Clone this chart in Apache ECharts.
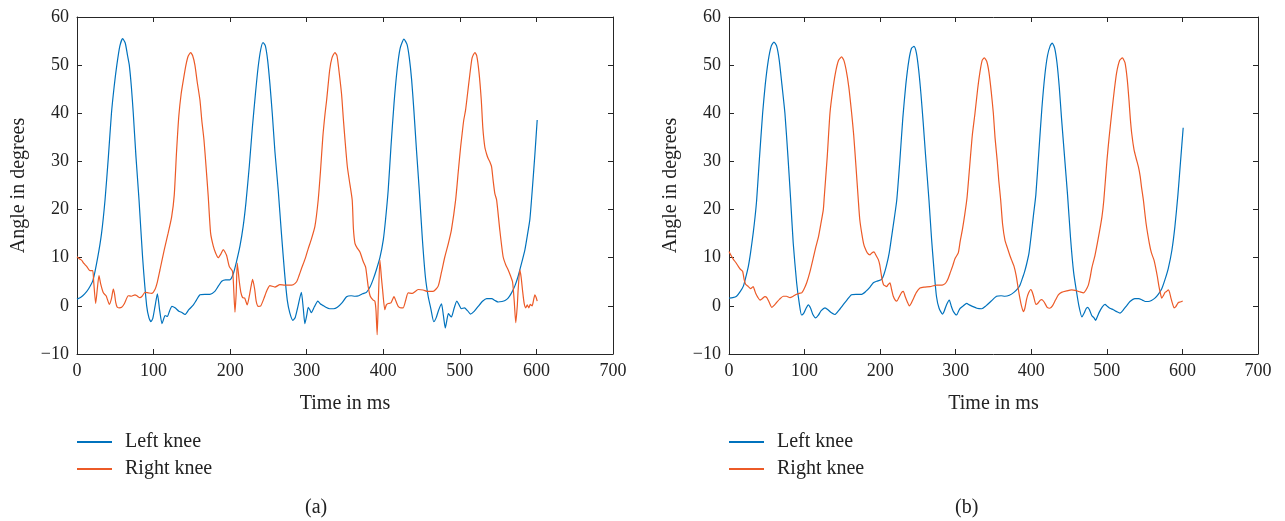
<!DOCTYPE html>
<html>
<head>
<meta charset="utf-8">
<script src="https://cdn.jsdelivr.net/npm/echarts@6/dist/echarts.min.js"></script>
<style>html,body{margin:0;padding:0;background:#fff}#c{width:1285px;height:521px}</style>
</head>
<body>
<div id="c"></div>
<script>
// Panel (a) : [time ms, angle deg]
const leftKneeA = [[0,1.4],[5,1.8],[10,2.5],[15,3.5],[21,5.4],[27,10],[32,15],[36.6,22],[41,31],[45,40],[48.5,45.5],[52,50],[56,54],[59.6,55.5],[63,54.6],[66,52],[68.3,50],[71,45.5],[73.5,40],[77,31],[81,22],[85.7,10],[91,0],[94,-2.5],[96.6,-3.3],[99,-2.6],[102,0],[105,2.5],[108,-1],[111,-3.7],[113,-2.8],[115,-2],[118,-2.2],[121,-1],[124,-0.1],[128,-0.4],[133,-1.1],[137,-1.4],[141,-1.8],[146,-0.8],[152,0.2],[156,1.2],[160.6,2.3],[167,2.4],[173.6,2.4],[180,3],[185,4.2],[189,5.1],[194,5.4],[199.6,5.4],[204,6.6],[208,9],[212.8,12.4],[217,16.5],[220.6,21.4],[225,29],[229,37],[233,44],[236.5,49.5],[240,53.3],[243,54.7],[246,54],[249,51],[252,46],[255,40],[258.5,32],[262.8,24],[267,15],[271,7],[274.6,1.2],[278,-1.5],[282,-3],[285,-2.4],[288,-0.5],[293,2.8],[295.5,-0.5],[297.6,-3.7],[300,-2],[302,-0.3],[304,-0.8],[306,-1.4],[310,-0.2],[314.5,1],[318,0.4],[321,0.1],[325,-0.3],[330,-0.6],[335,-0.6],[340,-0.3],[346,0.6],[352,1.9],[358,2.1],[363,2],[368,2.1],[373,2.5],[378,2.8],[383,4],[387,5.6],[391,7.5],[395.6,10],[400,13.7],[403,18],[406.4,24],[410,33],[414,42],[418,49],[422,53.5],[427,55.4],[431,54.3],[434,51.5],[437,47],[440,40.5],[443.5,32],[447,24],[451,14],[455,6],[458.6,2],[462,-0.5],[466,-3.3],[469,-2.5],[472,-1],[476,0.4],[478.5,-2],[481,-4.6],[483,-3],[485,-1.6],[487,-2],[489,-2.3],[492.5,-0.5],[496,1],[499,0.2],[502,-0.6],[506,-0.4],[510,-1],[514,-1.7],[519,-1.1],[524,-0.1],[530,1],[535,1.5],[541.5,1.5],[546,1.1],[550,0.8],[555,0.9],[559,1.1],[563,1.6],[567.5,2.7],[572,4.2],[576,6.1],[580,8.5],[585,11.7],[588,14.5],[591.4,17.9],[595,25],[598,31.5],[601,38.6]];
const rightKneeA = [[0,10.2],[3,9.8],[6,9.5],[9,8.8],[12.6,8.2],[17,7.3],[20.5,7.3],[21.8,5],[24.4,0.5],[26.5,3.5],[28.7,6.3],[31,4.5],[34.4,2.7],[38,2.1],[40,1.2],[42.2,0.3],[45,1.5],[47.4,3.5],[49,2.5],[50.5,0.8],[52.6,-0.3],[55,-0.4],[58.3,-0.3],[62,0.5],[67,2.1],[71,2],[75.7,2.3],[79,2],[82,1.7],[85,2],[88.8,2.8],[93,2.7],[97.5,2.6],[101.8,3.4],[105,5],[108.4,7.5],[114,11.7],[119,15.1],[123.6,18.5],[127,23],[130,32],[133,39.5],[136,44],[139,47],[142,49.8],[145,51.8],[148.4,52.6],[151,52],[154,50],[157,46.5],[160.6,42.7],[163,38.5],[165.8,34.5],[168.5,29],[171.4,22.7],[174.5,15.1],[178,12.4],[181,11],[184.5,10],[188,10.8],[191,11.7],[195.3,10.5],[198.8,8.2],[203,7.2],[204.2,5],[206.3,-1.3],[208,3],[209.3,8.9],[212,5],[214,2.8],[216.3,1.7],[219,1.6],[222.3,0.2],[225,2],[227.5,4.2],[229.3,5.5],[232,3.5],[234,1],[236.7,-0.1],[240,0],[244,1.5],[248,3.2],[252,4.2],[258.5,3.9],[265,4.4],[271.5,4.3],[277,4.3],[282.4,4.4],[286.8,5],[290,6.3],[293.3,7.8],[298,9.8],[302,11.9],[306,13.8],[310.7,16.5],[315,22],[318,28],[321,35],[324,40],[326,42.7],[330,49],[333,51.5],[336.8,52.6],[339.5,52],[342,49],[345.5,44],[348,38.5],[350,34.5],[353,29],[355.5,26.2],[359.4,22],[361,16],[363,13],[366,12],[369.5,11.2],[373.8,9.2],[377,8],[380.3,4],[383,2],[386.8,1.2],[389,1],[390.5,-1],[392,-6],[393.5,1],[395.6,9.5],[397.5,6],[399,3.5],[402,-0.8],[404,0.2],[406.4,0.5],[410,0.6],[414,1.9],[416.5,1],[419.5,-0.1],[423,-0.4],[426,-0.4],[429,1],[432.5,2.7],[438,2.6],[445.6,3.4],[452,3.3],[458,3],[465,3],[471.7,4.1],[476,7],[480.4,10.2],[485,13],[489,15.8],[494.5,22],[498,28],[501,33],[503,35.8],[505,38.5],[507.4,40.6],[510,44],[513,48],[516,51.5],[519.6,52.6],[522,52],[525,48.5],[528,42.7],[530,37],[532.6,33],[535,31.5],[537,30.6],[539,30],[541.4,28.9],[543.5,26],[545.7,23.3],[548,22],[552,16],[556.5,10.2],[560,8.5],[563,7.5],[566,6.3],[568.8,5],[571,1],[573,-3.5],[575,0],[576,3],[578.3,7.5],[580,6],[582,3],[584,0.5],[586,-0.4],[588,0.2],[590,-0.4],[592,0.3],[594.4,0],[596,1],[598,2.3],[599.5,1.8],[601,1]];
// Panel (b)
const leftKneeB = [[0,1.6],[5,1.7],[10,2],[15,3],[19,4.1],[22,5.8],[25.6,8.2],[28.5,11],[32,15.1],[34.5,18.5],[36.6,22],[40,30],[44.5,40],[48,46],[52,51],[56,54],[59.5,54.8],[63,54],[66.5,51],[70,46],[74,40],[78,31],[81.6,22],[85,13],[89.5,4.8],[93,0.5],[96,-1.9],[99,-1.5],[102,-0.5],[105,0.2],[108,-0.5],[111,-1.8],[114.7,-2.5],[118,-2],[122,-1],[127,-0.4],[131,-0.8],[135,-1.4],[140,-1.8],[145,-1],[151,0.2],[156,1.2],[162,2.3],[168,2.4],[175.6,2.4],[181,3],[186.6,3.9],[191,4.8],[195.4,5.1],[202,5.5],[205,6.5],[208.6,8.5],[212,11],[215.3,14.5],[219,18.5],[222,22],[226,30],[230,39],[234,46],[238,51],[241.5,53.5],[244.8,53.9],[248,52.5],[251,49],[254,44],[257,38],[260,31.5],[264.6,22],[268,14],[271,8],[274.5,2],[278,-0.5],[282.5,-1.7],[285,-1],[288,0.3],[291.5,1.2],[294,0],[297,-1.2],[301.2,-1.9],[304,-1],[306,-0.5],[310,0],[314.5,0.5],[318,0.2],[322,-0.1],[328,-0.5],[334.4,-0.6],[340,0],[347,1],[354,2],[360,2.1],[365,2],[371,2.2],[377,2.8],[382,3.6],[385,4.3],[388,5.6],[391,7],[394,8.8],[397,11],[400.5,15.5],[403,19],[406,23],[410,32],[414,41],[418,48],[421.5,52],[425,54],[427.8,54.6],[431,53.5],[434,50.5],[437,45.5],[440,39],[444,31],[448,23],[452,14],[456,7],[459.5,3.3],[463,0],[467,-2.3],[470,-1.5],[472.5,-0.6],[474.6,-0.3],[477,-0.8],[480,-2],[483,-2.5],[485.2,-3],[487.5,-2.2],[490,-1.3],[494,-0.2],[497.6,0.3],[500,0],[504,-0.5],[508.5,-0.8],[513,-1.2],[517.4,-1.5],[522,-0.8],[526,0],[530.6,0.9],[537,1.5],[542,1.5],[547,1.2],[551,0.9],[554.8,0.9],[559,1.1],[563.6,1.6],[568,2.4],[572.5,3.5],[577,5.5],[581.3,7.8],[586,11.5],[590,16.4],[594,23],[597.5,30],[601,37]];
const rightKneeB = [[0,11.3],[3,10.4],[5.6,9.7],[9,9],[12.3,8.2],[15,7.6],[18,7.2],[20,5.5],[22,4.5],[25.6,4],[28.5,3.6],[30.5,3.8],[32,4],[34,3.2],[35.6,2.5],[38,1.8],[41,1.2],[44,1.5],[47.6,1.9],[50,1.7],[53,0.8],[56.5,-0.3],[59,0],[63,0.7],[67,1.4],[71.9,2],[76,2],[80.7,1.7],[85,2],[89.5,2.4],[93,2.6],[96.2,2.7],[99,3.4],[102.8,4.8],[107,7],[111.6,10],[115,12.3],[118.2,14.2],[121.5,17],[124.8,20],[126,22.5],[130,31],[133.6,40],[137,44.5],[141,48.5],[145,51],[149,51.7],[152,51],[155,49],[158.5,45.5],[162.3,40],[165,35.5],[168,29],[171.1,22],[173,18],[175.6,15.1],[178,13],[180,12],[183,11],[186.6,10.6],[189,11],[191.9,11.2],[194.5,10.5],[197.6,9.6],[199.5,8.5],[201,7],[202.5,5.5],[204.5,4.4],[206.5,4.2],[208.5,4],[210.5,4.4],[213,4.8],[215,3.5],[217.4,2],[220,1.2],[222,1],[225,1.8],[228.5,2.8],[230.7,3],[233,2],[236,0.8],[238.6,0],[241,0.5],[244,1.5],[248,2.8],[252.7,3.7],[258,3.9],[266,4],[274.8,4.3],[280,4.3],[283.6,4.4],[287,4.8],[290,5.7],[293,7],[296,8.3],[299,9.8],[303.4,11],[306,13.5],[309,16],[312,19],[315,22.5],[319,30],[322,35.5],[325.5,40],[329,45],[332,48.5],[335,51],[337.9,51.5],[341,50.8],[344,48.5],[347,44.5],[349.8,40],[352,35],[355,30],[357,26],[359.5,22],[362,17],[365.2,13.6],[368.5,12],[371.8,10.4],[374,9.5],[377,8.3],[380,6.3],[382.8,3.5],[385,1.5],[387,0],[389.5,-1.2],[391.5,-0.5],[394,1.5],[396.5,2.7],[399.4,3.4],[401,3],[403,2],[406.3,0.3],[409,0.6],[412,1.2],[414,1.3],[417,0.8],[421,-0.3],[424.5,-0.5],[428,0],[432,1.2],[435.8,2.3],[440,2.8],[446.9,3.1],[453.5,3.3],[458,3.2],[464.5,2.9],[469,2.7],[472,3.2],[475.5,4.3],[478,6],[480,7.8],[484.3,10.5],[488.7,14.1],[493.5,18.5],[496,22],[500,30],[503,35],[506.4,40],[510,45],[513,48.5],[517,51],[520.5,51.5],[524,50.5],[527,47],[529.3,42.7],[531,39],[532.9,35.8],[536,32.4],[539,30.5],[541.7,28.9],[544,27],[546,24.5],[548.3,22],[552,17],[556.2,13],[559,11],[562.4,9.5],[564.5,8],[566.8,6.1],[569,4],[571,2.5],[572.6,1.6],[575,2.2],[577,2.8],[579,3],[581.4,3.3],[583,2.8],[585,1.5],[587,0.4],[589,-0.4],[591,-0.2],[593,0.3],[594.7,0.7],[597,0.8],[600.4,1]];

const seriesNames = ['Left knee', 'Right knee'];
const panelLabels = ['(a)', '(b)'];
const xTitle = 'Time in ms';
const yTitle = 'Angle in degrees';
const xRange = [0, 700, 100];
const yRange = [-10, 60, 10];

const FONT = '"Liberation Serif", "DejaVu Serif", serif';
const AXC = '#262626';
const TXT = '#222';
const BLUE = '#0072BD';
const ORANGE = '#EC5A27';

const chart = echarts.init(document.getElementById('c'), null, {renderer: 'canvas'});

const grids = [
  {left: 77, top: 17, width: 536, height: 337},
  {left: 729, top: 17, width: 529, height: 337}
];
const fmt = v => String(v).replace('-', '\u2212');
const xAxes = [], yAxes = [];
grids.forEach((g, gi) => {
  xAxes.push({type: 'value', gridIndex: gi, position: 'bottom', min: xRange[0], max: xRange[1], interval: xRange[2],
    name: xTitle, nameLocation: 'middle', nameGap: 40,
    nameTextStyle: {fontFamily: FONT, fontSize: 20, color: TXT},
    axisLine: {show: true, onZero: false, lineStyle: {color: AXC, width: 1}},
    axisTick: {show: true, inside: true, length: 5, lineStyle: {color: AXC}},
    axisLabel: {fontFamily: FONT, fontSize: 18, color: TXT, margin: 8, formatter: fmt},
    splitLine: {show: false}});
  xAxes.push({type: 'value', gridIndex: gi, position: 'top', min: xRange[0], max: xRange[1], interval: xRange[2],
    axisLine: {show: true, onZero: false, lineStyle: {color: AXC, width: 1}},
    axisTick: {show: true, inside: true, length: 5, lineStyle: {color: AXC}},
    axisLabel: {show: false}, splitLine: {show: false}});
  yAxes.push({type: 'value', gridIndex: gi, position: 'left', min: yRange[0], max: yRange[1], interval: yRange[2],
    name: yTitle, nameLocation: 'middle', nameGap: 48,
    nameTextStyle: {fontFamily: FONT, fontSize: 20, color: TXT},
    axisLine: {show: true, onZero: false, lineStyle: {color: AXC, width: 1}},
    axisTick: {show: true, inside: true, length: 5, lineStyle: {color: AXC}},
    axisLabel: {fontFamily: FONT, fontSize: 18, color: TXT, margin: 8, formatter: fmt},
    splitLine: {show: false}});
  yAxes.push({type: 'value', gridIndex: gi, position: 'right', min: yRange[0], max: yRange[1], interval: yRange[2],
    axisLine: {show: true, onZero: false, lineStyle: {color: AXC, width: 1}},
    axisTick: {show: true, inside: true, length: 5, lineStyle: {color: AXC}},
    axisLabel: {show: false}, splitLine: {show: false}});
});

const mk = (name, data, gi, color) => ({
  name, type: 'line', data, xAxisIndex: gi * 2, yAxisIndex: gi * 2,
  showSymbol: false, symbol: 'none', smooth: 0.2, animation: false,
  lineStyle: {color, width: 1.2}, itemStyle: {color}
});

const legendBase = {
  data: seriesNames, orient: 'vertical', top: 432, padding: 0,
  icon: 'rect', itemWidth: 35, itemHeight: 2, itemGap: 7,
  textStyle: {fontFamily: FONT, fontSize: 20, color: TXT, padding: [0, 0, 0, 8]}
};

chart.setOption({
  backgroundColor: '#fff',
  animation: false,
  grid: grids,
  xAxis: xAxes,
  yAxis: yAxes,
  title: [
    {text: panelLabels[0], left: 300, top: 493, textStyle: {fontFamily: FONT, fontSize: 20, fontWeight: 'normal', color: TXT}},
    {text: panelLabels[1], left: 950, top: 493, textStyle: {fontFamily: FONT, fontSize: 20, fontWeight: 'normal', color: TXT}}
  ],
  legend: [
    Object.assign({}, legendBase, {left: 77}),
    Object.assign({}, legendBase, {left: 729})
  ],
  series: [
    mk(seriesNames[0], leftKneeA, 0, BLUE),
    mk(seriesNames[1], rightKneeA, 0, ORANGE),
    mk(seriesNames[0], leftKneeB, 1, BLUE),
    mk(seriesNames[1], rightKneeB, 1, ORANGE)
  ]
});
</script>
</body>
</html>
